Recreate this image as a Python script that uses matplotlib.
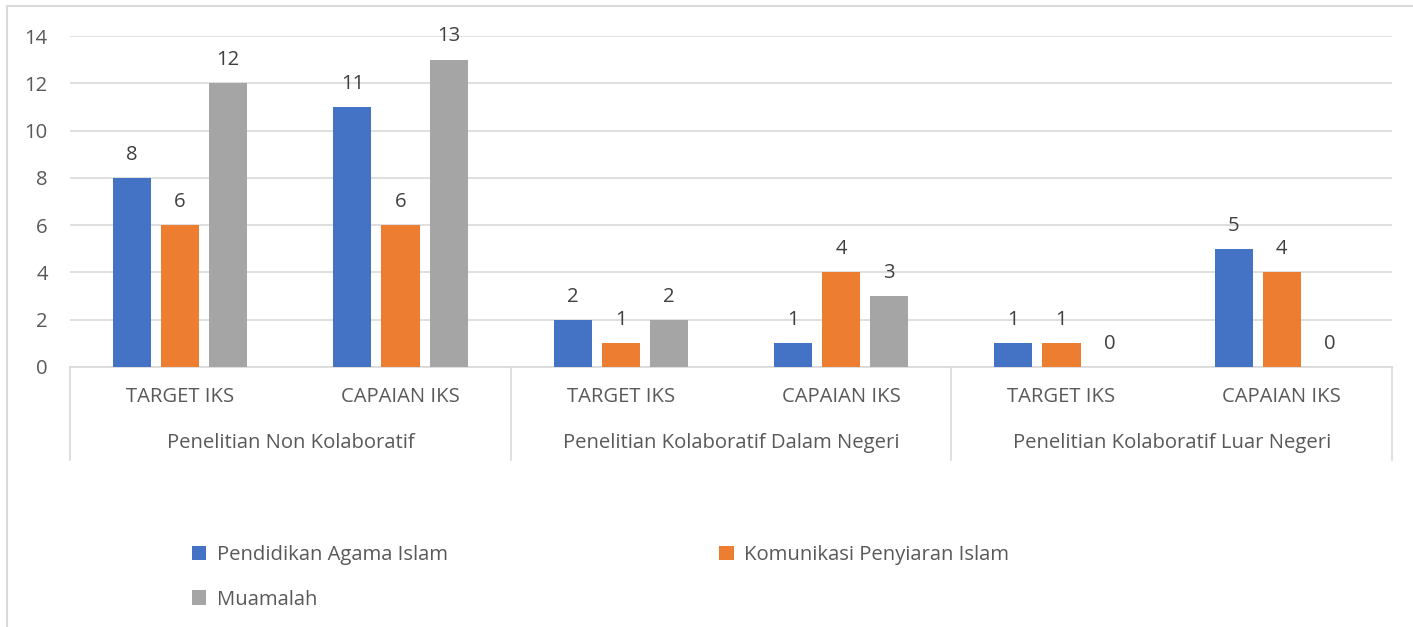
import matplotlib.pyplot as plt
from matplotlib.patches import Rectangle
from matplotlib.transforms import blended_transform_factory

plt.rcParams["font.family"] = ["Open Sans", "DejaVu Sans"]

sub_labels = ["TARGET IKS", "CAPAIAN IKS"] * 3
groups = [
    "Penelitian Non Kolaboratif",
    "Penelitian Kolaboratif Dalam Negeri",
    "Penelitian Kolaboratif Luar Negeri",
]
series_names = ["Pendidikan Agama Islam", "Komunikasi Penyiaran Islam", "Muamalah"]
pai = [8, 11, 2, 1, 1, 5]
kpi = [6, 6, 1, 4, 1, 4]
muamalah = [12, 13, 2, 3, 0, 0]
colors = ["#4472C4", "#ED7D31", "#A5A5A5"]

W, H = 1413, 627
fs = 14.6
fig = plt.figure(figsize=(W / 100, H / 100), dpi=100)
ax = fig.add_axes([70 / W, 1 - 367 / H, (1392 - 70) / W, (367 - 36) / H])

txt = "#595959"
grid = "#D9D9D9"

# chart frame (cropped on right and bottom in the original)
fig.patches.append(Rectangle((7 / W, -0.1), 1.2, 1 - 6 / H + 0.1, transform=fig.transFigure,
                             fill=False, edgecolor=grid, linewidth=1.5))

x = list(range(len(sub_labels)))
offs = [-0.218, 0, 0.218]
bw = 0.1725
handles = []
for vals, off, c, name in zip([pai, kpi, muamalah], offs, colors, series_names):
    bars = ax.bar([i + off for i in x], vals, width=bw, color=c, label=name, zorder=3)
    handles.append(bars)
    for b, v in zip(bars, vals):
        ax.annotate(str(v), (b.get_x() + b.get_width() / 2, v), xytext=(0, 9.5),
                    textcoords="offset points", ha="center", va="bottom",
                    fontsize=fs, color="#404040")

ax.set_xlim(-0.5, 5.5)
ax.set_ylim(0, 14)
ax.set_yticks(range(0, 15, 2))
ax.yaxis.grid(True, color=grid, linewidth=1.2, zorder=0)
ax.tick_params(axis="y", length=0, pad=16, labelsize=fs, labelcolor=txt)
ax.tick_params(axis="x", length=0, labelbottom=False)
for s in ["top", "right", "left"]:
    ax.spines[s].set_visible(False)
ax.spines["bottom"].set_color(grid)
ax.spines["bottom"].set_linewidth(1.2)

tr = blended_transform_factory(ax.transData, ax.transAxes)
for xd in [-0.5, 1.5, 3.5, 5.5]:
    ax.plot([xd, xd], [0, -93 / 331], transform=tr, color=grid, linewidth=1.2, clip_on=False)
for i, lab in enumerate(sub_labels):
    ax.text(i, -30 / 331, lab, transform=tr, ha="center", va="center", fontsize=fs, color=txt)
for g, lab in enumerate(groups):
    ax.text(2 * g + 0.5, -76 / 331, lab, transform=tr, ha="center", va="center",
            fontsize=fs, color=txt)

leg = fig.legend([handles[0], handles[2], handles[1]],
                 [series_names[0], series_names[2], series_names[1]],
                 ncol=2, loc="upper left", bbox_to_anchor=(174 / W, 1 - 527 / H),
                 frameon=False, fontsize=fs, labelcolor=txt, handlelength=0.7,
                 handleheight=0.7, handletextpad=0.5, columnspacing=13.4, labelspacing=1.2)

fig.savefig("out.png", dpi=100)
